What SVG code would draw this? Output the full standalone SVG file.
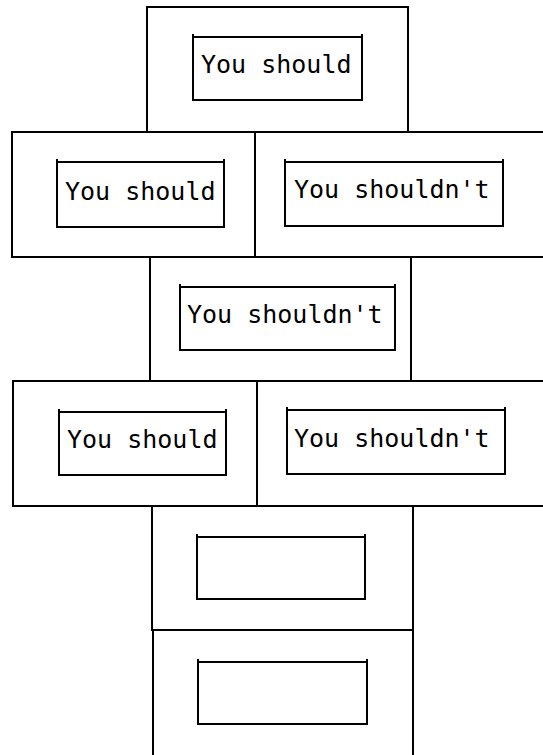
<svg xmlns="http://www.w3.org/2000/svg" width="543" height="755" viewBox="0 0 543 755">
<style>
.frame{fill:none;stroke:#000;stroke-width:2;stroke-linecap:square}
.inner{fill:none;stroke:#000;stroke-width:2}
.lbl{font-family:"DejaVu Sans Mono","Liberation Mono",monospace;font-size:25px;fill:#000}
</style>
<rect width="543" height="755" fill="#fff"/>
<g id="connectors"></g>
<g id="n1">
<path class="frame" d="M147,132 V7 H408 V132 Z"/>
<path class="inner" d="M193,34 V100 H362 V34 M193,37 H362"/>
<text class="lbl" x="201" y="73">You should</text>
</g>
<g id="n2">
<path class="frame" d="M12,132 H255 V257 H12 Z"/>
<path class="inner" d="M57,159 V227 H224 V159 M57,162 H224"/>
<text class="lbl" x="65" y="200">You should</text>
</g>
<g id="n3">
<path class="frame" d="M543,132 H255 V257 H543"/>
<path class="inner" d="M285,159 V226 H503 V159 M285,162 H503"/>
<text class="lbl" x="294" y="198">You shouldn't</text>
</g>
<g id="n4">
<path class="frame" d="M150,257 H411 V381 H150 Z"/>
<path class="inner" d="M180,284 V350 H395 V284 M180,287 H395"/>
<text class="lbl" x="187" y="323">You shouldn't</text>
</g>
<g id="n5">
<path class="frame" d="M13,381 H257 V506 H13 Z"/>
<path class="inner" d="M59,409 V475 H226 V409 M59,412 H226"/>
<text class="lbl" x="67" y="448">You should</text>
</g>
<g id="n6">
<path class="frame" d="M543,381 H257 V506 H543"/>
<path class="inner" d="M287,407 V474 H505 V407 M287,410 H505"/>
<text class="lbl" x="294" y="447">You shouldn't</text>
</g>
<g id="n7">
<path class="frame" d="M152,506 H413 V630 H152 Z"/>
<path class="inner" d="M197,534 V599 H365 V534 M197,537 H365"/>
</g>
<g id="n8">
<path class="frame" d="M153,756 V630 H413 V756"/>
<path class="inner" d="M198,659 V724 H367 V659 M198,662 H367"/>
</g>
</svg>
